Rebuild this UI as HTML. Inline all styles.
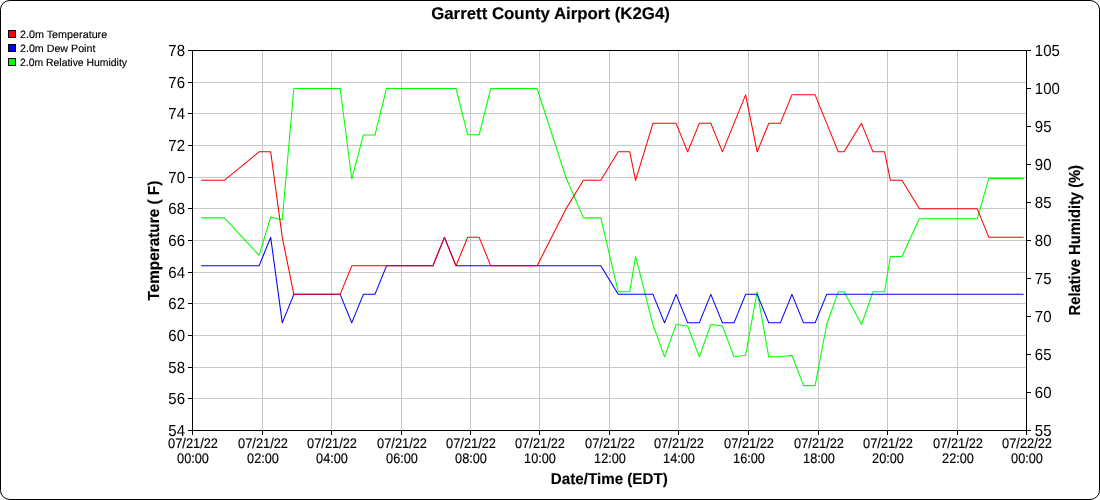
<!DOCTYPE html><html><head><meta charset="utf-8"><title>Garrett County Airport (K2G4)</title>
<style>html,body{margin:0;padding:0;background:#fff}svg{display:block}text{text-rendering:geometricPrecision;font-family:"Liberation Sans",Arial,sans-serif;fill:#000;stroke:#000;stroke-width:.15px}.b{font-weight:bold}.n{stroke:none}</style></head><body>
<svg width="1100" height="500" viewBox="0 0 1100 500">
<rect x="0.5" y="0.5" width="1099" height="499" rx="9.5" ry="9" fill="#fff" stroke="#000" stroke-width="1"/>
<path d="M262.5 51V430M331.5 51V430M401.5 51V430M470.5 51V430M539.5 51V430M609.5 51V430M678.5 51V430M748.5 51V430M818.5 51V430M887.5 51V430M957.5 51V430M193 82.5H1026M193 113.5H1026M193 145.5H1026M193 177.5H1026M193 208.5H1026M193 240.5H1026M193 272.5H1026M193 303.5H1026M193 335.5H1026M193 367.5H1026M193 398.5H1026" stroke="#c8c8c8" stroke-width="1" fill="none" shape-rendering="crispEdges"/>
<polyline points="201.19,217.88 224.35,217.88 259.10,255.36 270.69,216.99 282.27,219.69 293.85,88.50 340.19,88.50 351.77,179.02 363.35,135.02 374.94,135.02 386.52,88.50 432.85,88.50 444.44,88.50 456.02,88.50 467.60,134.68 479.19,134.68 490.77,88.50 537.10,88.50 566.06,177.73 583.44,217.88 600.81,217.88 618.19,291.67 629.77,291.67 635.56,256.48 652.94,324.52 664.52,356.83 676.10,324.52 687.69,326.00 699.27,356.83 710.85,324.52 722.44,326.00 734.02,356.83 745.60,355.21 757.19,291.67 768.77,356.83 780.35,356.83 791.94,355.21 803.52,385.63 815.10,385.63 826.69,324.52 838.27,291.67 844.06,291.67 861.44,324.52 873.02,291.67 884.60,291.67 890.40,256.48 901.98,256.48 919.35,218.78 977.27,218.78 988.85,178.37 1023.60,178.37" fill="none" stroke="#00ff00" stroke-width="1.05" stroke-linejoin="round"/>
<polyline points="201.19,265.83 224.35,265.83 259.10,265.83 270.69,237.33 282.27,322.83 293.85,294.33 340.19,294.33 351.77,322.83 363.35,294.33 374.94,294.33 386.52,265.83 432.85,265.83 444.44,237.33 456.02,265.83 467.60,265.83 479.19,265.83 490.77,265.83 537.10,265.83 566.06,265.83 583.44,265.83 600.81,265.83 618.19,294.33 629.77,294.33 635.56,294.33 652.94,294.33 664.52,322.83 676.10,294.33 687.69,322.83 699.27,322.83 710.85,294.33 722.44,322.83 734.02,322.83 745.60,294.33 757.19,294.33 768.77,322.83 780.35,322.83 791.94,294.33 803.52,322.83 815.10,322.83 826.69,294.33 838.27,294.33 844.06,294.33 861.44,294.33 873.02,294.33 884.60,294.33 890.40,294.33 901.98,294.33 919.35,294.33 977.27,294.33 988.85,294.33 1023.60,294.33" fill="none" stroke="#0000ff" stroke-width="1.05" stroke-linejoin="round"/>
<polyline points="201.19,180.33 224.35,180.33 259.10,151.83 270.69,151.83 282.27,237.33 293.85,294.33 340.19,294.33 351.77,265.83 363.35,265.83 374.94,265.83 386.52,265.83 432.85,265.83 444.44,237.33 456.02,265.83 467.60,237.33 479.19,237.33 490.77,265.83 537.10,265.83 566.06,208.83 583.44,180.33 600.81,180.33 618.19,151.83 629.77,151.83 635.56,180.33 652.94,123.33 664.52,123.33 676.10,123.33 687.69,151.83 699.27,123.33 710.85,123.33 722.44,151.83 734.02,123.33 745.60,94.83 757.19,151.83 768.77,123.33 780.35,123.33 791.94,94.83 803.52,94.83 815.10,94.83 826.69,123.33 838.27,151.83 844.06,151.83 861.44,123.33 873.02,151.83 884.60,151.83 890.40,180.33 901.98,180.33 919.35,208.83 977.27,208.83 988.85,237.33 1023.60,237.33" fill="none" stroke="#ff0000" stroke-width="1.05" stroke-linejoin="round"/>
<path d="M188 50.5H1031M188 430.5H1031M192.5 50V435M1026.5 50V435M262.5 431V435M331.5 431V435M401.5 431V435M470.5 431V435M539.5 431V435M609.5 431V435M678.5 431V435M748.5 431V435M818.5 431V435M887.5 431V435M957.5 431V435M188 82.5H192M188 113.5H192M188 145.5H192M188 177.5H192M188 208.5H192M188 240.5H192M188 272.5H192M188 303.5H192M188 335.5H192M188 367.5H192M188 398.5H192M1027 88.5H1031M1027 126.5H1031M1027 164.5H1031M1027 202.5H1031M1027 240.5H1031M1027 278.5H1031M1027 316.5H1031M1027 354.5H1031M1027 392.5H1031" stroke="#000" stroke-width="1" fill="none" shape-rendering="crispEdges"/>
<text transform="translate(185 56) scale(1 1.05)" font-size="15.33" text-anchor="end" textLength="16.7" lengthAdjust="spacingAndGlyphs" class="n">78</text>
<text transform="translate(185 88) scale(1 1.05)" font-size="15.33" text-anchor="end" textLength="16.7" lengthAdjust="spacingAndGlyphs" class="n">76</text>
<text transform="translate(185 119) scale(1 1.05)" font-size="15.33" text-anchor="end" textLength="16.7" lengthAdjust="spacingAndGlyphs" class="n">74</text>
<text transform="translate(185 151) scale(1 1.05)" font-size="15.33" text-anchor="end" textLength="16.7" lengthAdjust="spacingAndGlyphs" class="n">72</text>
<text transform="translate(185 183) scale(1 1.05)" font-size="15.33" text-anchor="end" textLength="16.7" lengthAdjust="spacingAndGlyphs" class="n">70</text>
<text transform="translate(185 214) scale(1 1.05)" font-size="15.33" text-anchor="end" textLength="16.7" lengthAdjust="spacingAndGlyphs" class="n">68</text>
<text transform="translate(185 246) scale(1 1.05)" font-size="15.33" text-anchor="end" textLength="16.7" lengthAdjust="spacingAndGlyphs" class="n">66</text>
<text transform="translate(185 278) scale(1 1.05)" font-size="15.33" text-anchor="end" textLength="16.7" lengthAdjust="spacingAndGlyphs" class="n">64</text>
<text transform="translate(185 309) scale(1 1.05)" font-size="15.33" text-anchor="end" textLength="16.7" lengthAdjust="spacingAndGlyphs" class="n">62</text>
<text transform="translate(185 341) scale(1 1.05)" font-size="15.33" text-anchor="end" textLength="16.7" lengthAdjust="spacingAndGlyphs" class="n">60</text>
<text transform="translate(185 373) scale(1 1.05)" font-size="15.33" text-anchor="end" textLength="16.7" lengthAdjust="spacingAndGlyphs" class="n">58</text>
<text transform="translate(185 404) scale(1 1.05)" font-size="15.33" text-anchor="end" textLength="16.7" lengthAdjust="spacingAndGlyphs" class="n">56</text>
<text transform="translate(185 436) scale(1 1.05)" font-size="15.33" text-anchor="end" textLength="16.7" lengthAdjust="spacingAndGlyphs" class="n">54</text>
<text transform="translate(1034.8 56) scale(1 1.05)" font-size="15.33" textLength="25" lengthAdjust="spacingAndGlyphs" class="n">105</text>
<text transform="translate(1034.8 94) scale(1 1.05)" font-size="15.33" textLength="25" lengthAdjust="spacingAndGlyphs" class="n">100</text>
<text transform="translate(1034.8 132) scale(1 1.05)" font-size="15.33" textLength="16.7" lengthAdjust="spacingAndGlyphs" class="n">95</text>
<text transform="translate(1034.8 170) scale(1 1.05)" font-size="15.33" textLength="16.7" lengthAdjust="spacingAndGlyphs" class="n">90</text>
<text transform="translate(1034.8 208) scale(1 1.05)" font-size="15.33" textLength="16.7" lengthAdjust="spacingAndGlyphs" class="n">85</text>
<text transform="translate(1034.8 246) scale(1 1.05)" font-size="15.33" textLength="16.7" lengthAdjust="spacingAndGlyphs" class="n">80</text>
<text transform="translate(1034.8 284) scale(1 1.05)" font-size="15.33" textLength="16.7" lengthAdjust="spacingAndGlyphs" class="n">75</text>
<text transform="translate(1034.8 322) scale(1 1.05)" font-size="15.33" textLength="16.7" lengthAdjust="spacingAndGlyphs" class="n">70</text>
<text transform="translate(1034.8 360) scale(1 1.05)" font-size="15.33" textLength="16.7" lengthAdjust="spacingAndGlyphs" class="n">65</text>
<text transform="translate(1034.8 398) scale(1 1.05)" font-size="15.33" textLength="16.7" lengthAdjust="spacingAndGlyphs" class="n">60</text>
<text transform="translate(1034.8 436) scale(1 1.05)" font-size="15.33" textLength="16.7" lengthAdjust="spacingAndGlyphs" class="n">55</text>
<text transform="translate(193 447.7) scale(1 1.05)" font-size="13.33" text-anchor="middle" textLength="49.9" lengthAdjust="spacingAndGlyphs">07/21/22</text>
<text transform="translate(193 462.7) scale(1 1.05)" font-size="13.33" text-anchor="middle" textLength="31.9" lengthAdjust="spacingAndGlyphs">00:00</text>
<text transform="translate(263 447.7) scale(1 1.05)" font-size="13.33" text-anchor="middle" textLength="49.9" lengthAdjust="spacingAndGlyphs">07/21/22</text>
<text transform="translate(263 462.7) scale(1 1.05)" font-size="13.33" text-anchor="middle" textLength="31.9" lengthAdjust="spacingAndGlyphs">02:00</text>
<text transform="translate(332 447.7) scale(1 1.05)" font-size="13.33" text-anchor="middle" textLength="49.9" lengthAdjust="spacingAndGlyphs">07/21/22</text>
<text transform="translate(332 462.7) scale(1 1.05)" font-size="13.33" text-anchor="middle" textLength="31.9" lengthAdjust="spacingAndGlyphs">04:00</text>
<text transform="translate(402 447.7) scale(1 1.05)" font-size="13.33" text-anchor="middle" textLength="49.9" lengthAdjust="spacingAndGlyphs">07/21/22</text>
<text transform="translate(402 462.7) scale(1 1.05)" font-size="13.33" text-anchor="middle" textLength="31.9" lengthAdjust="spacingAndGlyphs">06:00</text>
<text transform="translate(471 447.7) scale(1 1.05)" font-size="13.33" text-anchor="middle" textLength="49.9" lengthAdjust="spacingAndGlyphs">07/21/22</text>
<text transform="translate(471 462.7) scale(1 1.05)" font-size="13.33" text-anchor="middle" textLength="31.9" lengthAdjust="spacingAndGlyphs">08:00</text>
<text transform="translate(540 447.7) scale(1 1.05)" font-size="13.33" text-anchor="middle" textLength="49.9" lengthAdjust="spacingAndGlyphs">07/21/22</text>
<text transform="translate(540 462.7) scale(1 1.05)" font-size="13.33" text-anchor="middle" textLength="31.9" lengthAdjust="spacingAndGlyphs">10:00</text>
<text transform="translate(610 447.7) scale(1 1.05)" font-size="13.33" text-anchor="middle" textLength="49.9" lengthAdjust="spacingAndGlyphs">07/21/22</text>
<text transform="translate(610 462.7) scale(1 1.05)" font-size="13.33" text-anchor="middle" textLength="31.9" lengthAdjust="spacingAndGlyphs">12:00</text>
<text transform="translate(679 447.7) scale(1 1.05)" font-size="13.33" text-anchor="middle" textLength="49.9" lengthAdjust="spacingAndGlyphs">07/21/22</text>
<text transform="translate(679 462.7) scale(1 1.05)" font-size="13.33" text-anchor="middle" textLength="31.9" lengthAdjust="spacingAndGlyphs">14:00</text>
<text transform="translate(749 447.7) scale(1 1.05)" font-size="13.33" text-anchor="middle" textLength="49.9" lengthAdjust="spacingAndGlyphs">07/21/22</text>
<text transform="translate(749 462.7) scale(1 1.05)" font-size="13.33" text-anchor="middle" textLength="31.9" lengthAdjust="spacingAndGlyphs">16:00</text>
<text transform="translate(819 447.7) scale(1 1.05)" font-size="13.33" text-anchor="middle" textLength="49.9" lengthAdjust="spacingAndGlyphs">07/21/22</text>
<text transform="translate(819 462.7) scale(1 1.05)" font-size="13.33" text-anchor="middle" textLength="31.9" lengthAdjust="spacingAndGlyphs">18:00</text>
<text transform="translate(888 447.7) scale(1 1.05)" font-size="13.33" text-anchor="middle" textLength="49.9" lengthAdjust="spacingAndGlyphs">07/21/22</text>
<text transform="translate(888 462.7) scale(1 1.05)" font-size="13.33" text-anchor="middle" textLength="31.9" lengthAdjust="spacingAndGlyphs">20:00</text>
<text transform="translate(958 447.7) scale(1 1.05)" font-size="13.33" text-anchor="middle" textLength="49.9" lengthAdjust="spacingAndGlyphs">07/21/22</text>
<text transform="translate(958 462.7) scale(1 1.05)" font-size="13.33" text-anchor="middle" textLength="31.9" lengthAdjust="spacingAndGlyphs">22:00</text>
<text transform="translate(1027 447.7) scale(1 1.05)" font-size="13.33" text-anchor="middle" textLength="49.9" lengthAdjust="spacingAndGlyphs">07/22/22</text>
<text transform="translate(1027 462.7) scale(1 1.05)" font-size="13.33" text-anchor="middle" textLength="31.9" lengthAdjust="spacingAndGlyphs">00:00</text>
<text transform="translate(550.5 18.5)" font-size="16.7" text-anchor="middle" textLength="238.7" lengthAdjust="spacingAndGlyphs" class="b">Garrett County Airport (K2G4)</text>
<text transform="translate(609.3 484) scale(1 1.015)" font-size="15.33" text-anchor="middle" textLength="116.9" lengthAdjust="spacingAndGlyphs" class="b">Date/Time (EDT)</text>
<text transform="translate(159 240.6) rotate(-90) scale(1 1.04)" font-size="15.33" text-anchor="middle" class="b">Temperature ( F)</text>
<text transform="translate(1080 240.2) rotate(-90) scale(1 1.04)" font-size="15.33" text-anchor="middle" textLength="150.4" lengthAdjust="spacingAndGlyphs" class="b">Relative Humidity (%)</text>
<rect x="8.5" y="30.5" width="7" height="7" fill="#ff0000" stroke="#000" stroke-width="1" shape-rendering="crispEdges"/>
<text transform="translate(20 37.6)" font-size="10.6" textLength="87.2" lengthAdjust="spacingAndGlyphs">2.0m Temperature</text>
<rect x="8.5" y="44.5" width="7" height="7" fill="#0000ff" stroke="#000" stroke-width="1" shape-rendering="crispEdges"/>
<text transform="translate(20 51.6)" font-size="10.6" textLength="75.4" lengthAdjust="spacingAndGlyphs">2.0m Dew Point</text>
<rect x="8.5" y="58.5" width="7" height="7" fill="#00ff00" stroke="#000" stroke-width="1" shape-rendering="crispEdges"/>
<text transform="translate(20 65.6)" font-size="10.6" textLength="107" lengthAdjust="spacingAndGlyphs">2.0m Relative Humidity</text>
</svg></body></html>
